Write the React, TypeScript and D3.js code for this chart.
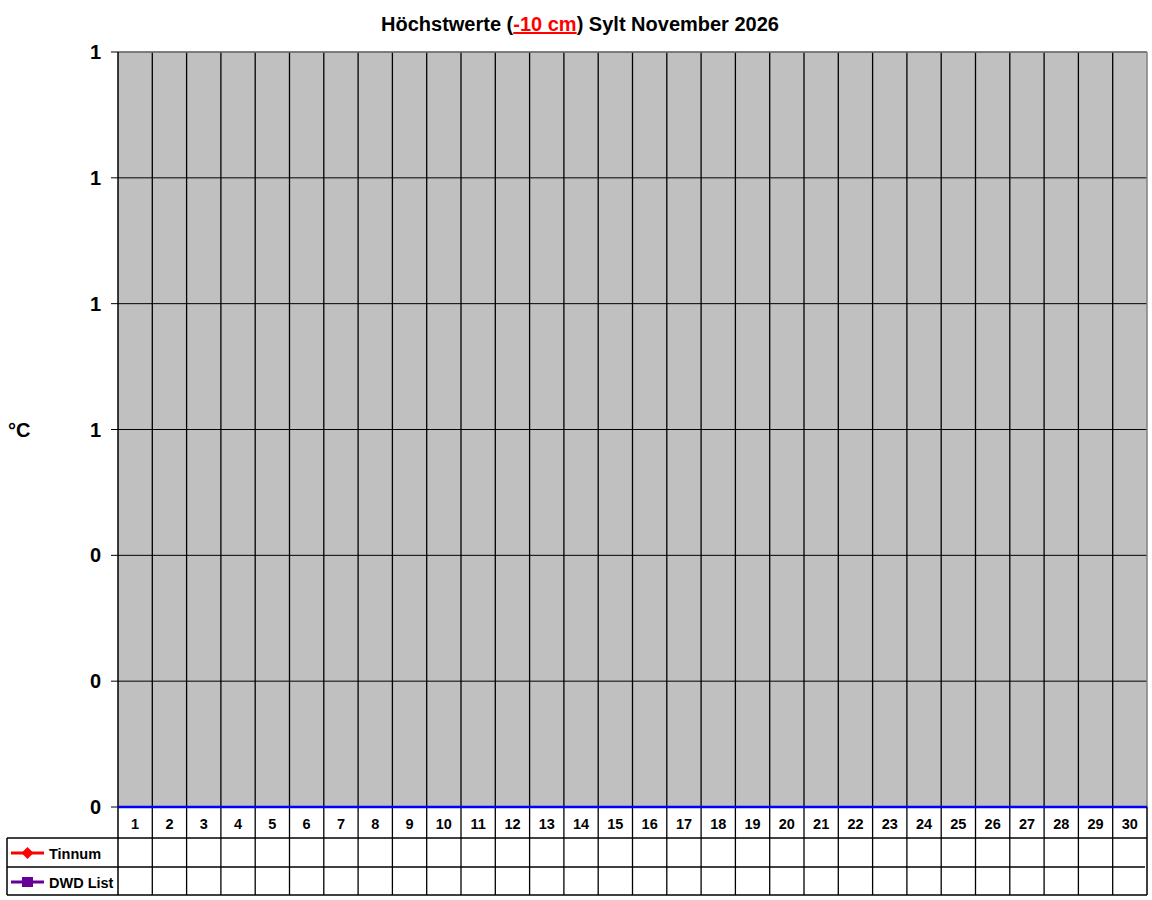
import React from 'react';
import * as d3 from 'd3';

// Tage im November
const days: number[] = Array.from({ length: 30 }, (_, i) => i + 1);
// Keine Messwerte vorhanden
const tinnum: (number | null)[] = days.map(() => null);
const dwdList: (number | null)[] = days.map(() => null);
const yTicks: number[] = [0, 0.2, 0.4, 0.6, 0.8, 1.0, 1.2];

const series = [
  { name: 'Tinnum', color: '#ff0000', marker: 'diamond', values: tinnum },
  { name: 'DWD List', color: '#660099', marker: 'square', values: dwdList },
];

const W = 1152;
const H = 900;
const left = 118;
const right = 1147;
const top = 52;
const bottom = 807;
const rowH = 30;
const tableLeft = 7;
const font = 'Arial, "Liberation Sans", sans-serif';

const App: React.FC = () => {
  const x = d3.scaleBand<number>().domain(days).range([left, right]);
  const y = d3.scaleLinear().domain([0, 1.2]).range([bottom, top]);
  const fmt = d3.format('.0f');
  const tableBottom = bottom + rowH * 3 - 2;

  return (
    <svg width={W} height={H} style={{ position: 'absolute', left: 0, top: 0 }} fontFamily={font}>
      <rect x={0} y={0} width={W} height={H} fill="#fff" />
      <text x={580} y={31} textAnchor="middle" fontSize={20} fontWeight="bold">
        Höchstwerte (<tspan fill="#ff0000" textDecoration="underline">-10 cm</tspan>) Sylt November 2026
      </text>

      {/* Plotfläche */}
      <rect x={left} y={top} width={right - left} height={bottom - top} fill="#c0c0c0" />
      {yTicks.map(t => (
        <line key={'g' + t} x1={left} x2={right} y1={y(t)} y2={y(t)} stroke="#000" strokeWidth={1} />
      ))}
      {days.slice(1).map(d => (
        <line key={'v' + d} x1={x(d)!} x2={x(d)!} y1={top} y2={tableBottom} stroke="#000" strokeWidth={1.3} />
      ))}
      <line x1={left} x2={right} y1={top} y2={top} stroke="#808080" strokeWidth={1.5} />
      <line x1={right} x2={right} y1={top} y2={bottom} stroke="#808080" strokeWidth={1.5} />
      <line x1={left} x2={left} y1={top} y2={tableBottom} stroke="#000" strokeWidth={1.5} />

      {/* y-Achse */}
      {yTicks.map(t => (
        <g key={'t' + t}>
          <line x1={left - 7} x2={left} y1={y(t)} y2={y(t)} stroke="#000" />
          <text x={101} y={y(t) + 7} textAnchor="end" fontSize={20} fontWeight="bold">{fmt(t)}</text>
        </g>
      ))}
      <text x={8} y={437} fontSize={20} fontWeight="bold">°C</text>

      {/* Linien */}
      {series.map(s => {
        const line = d3.line<number | null>()
          .defined(v => v !== null)
          .x((_, i) => x(days[i])! + x.bandwidth() / 2)
          .y(v => y(v as number));
        return <path key={s.name} d={line(s.values) || ''} fill="none" stroke={s.color} strokeWidth={2} />;
      })}

      {/* x-Achse */}
      <line x1={left} x2={right} y1={bottom} y2={bottom} stroke="#0000ff" strokeWidth={2.5} />

      {/* Datentabelle */}
      {days.map(d => (
        <text key={'d' + d} x={x(d)! + x.bandwidth() / 2} y={bottom + 22} textAnchor="middle" fontSize={14.5} fontWeight="bold">{d}</text>
      ))}
      <line x1={tableLeft} x2={right} y1={bottom + 31} y2={bottom + 31} stroke="#000" strokeWidth={1.5} />
      <line x1={tableLeft} x2={right - 2} y1={bottom + 60} y2={bottom + 60} stroke="#000" strokeWidth={1.5} />
      <line x1={tableLeft} x2={right} y1={tableBottom} y2={tableBottom} stroke="#000" strokeWidth={1.5} />
      <line x1={tableLeft} x2={tableLeft} y1={bottom + 31} y2={tableBottom} stroke="#000" strokeWidth={1.5} />
      <line x1={right} x2={right} y1={bottom} y2={tableBottom} stroke="#000" strokeWidth={1.5} />

      {series.map((s, i) => {
        const cy = bottom + 31 + 15 + i * 29;
        return (
          <g key={'l' + s.name}>
            <line x1={11} x2={44} y1={cy} y2={cy} stroke={s.color} strokeWidth={3} />
            {s.marker === 'diamond' ? (
              <path d={`M${27.5},${cy - 6} L${33.5},${cy} L${27.5},${cy + 6} L${21.5},${cy} Z`} fill={s.color} />
            ) : (
              <rect x={22} y={cy - 5} width={11} height={10} fill={s.color} />
            )}
            <text x={49} y={cy + 6} fontSize={14.5} fontWeight="bold">{s.name}</text>
          </g>
        );
      })}
    </svg>
  );
};

export default App;
